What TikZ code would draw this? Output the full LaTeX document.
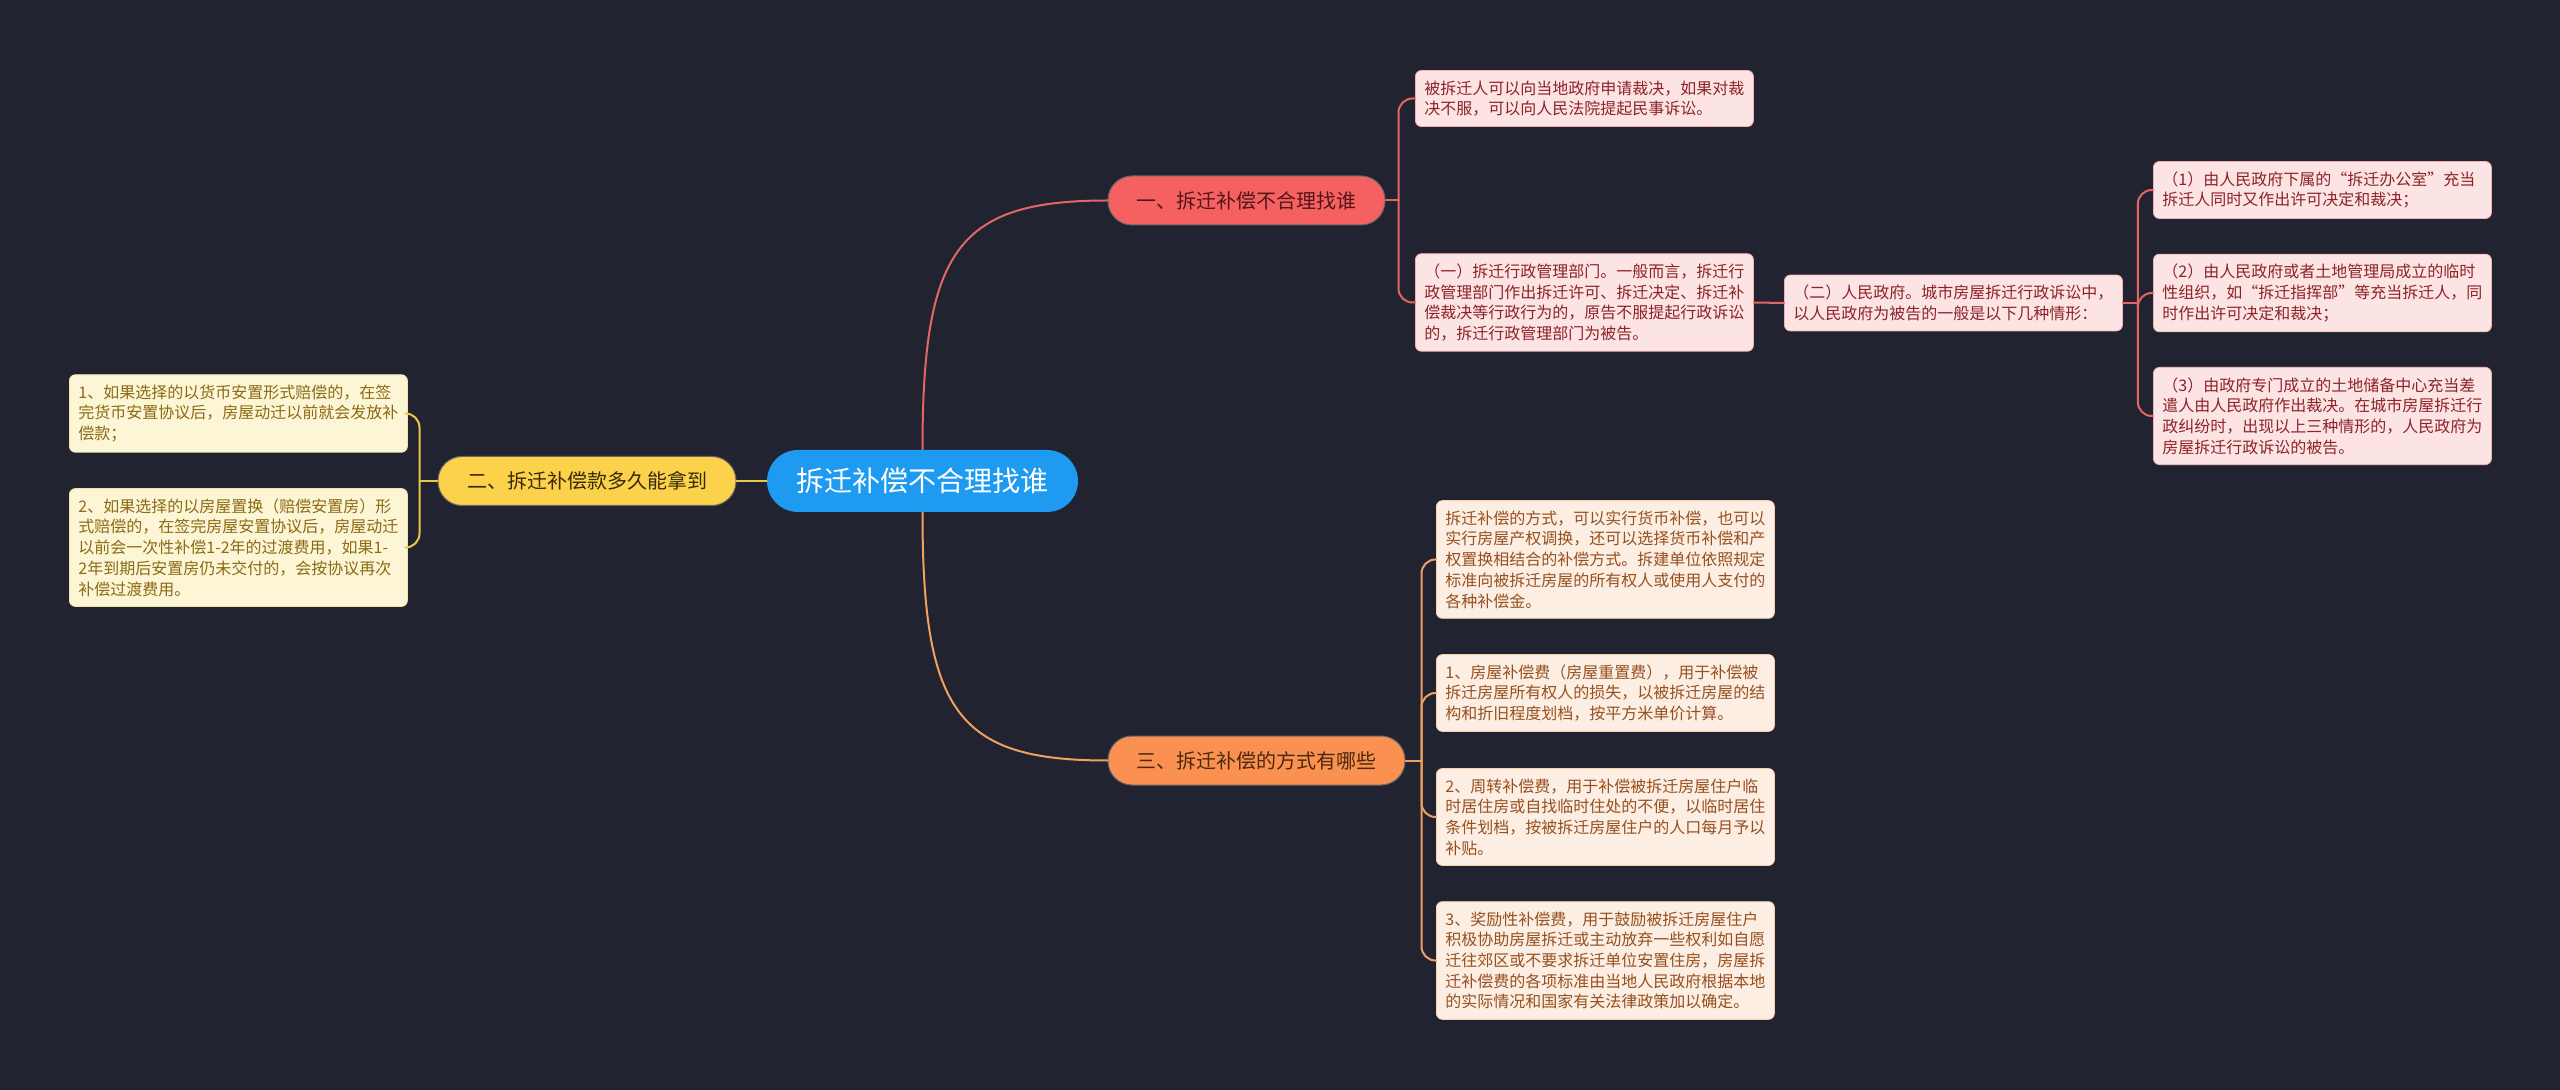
\documentclass[tikz,border=0pt]{standalone}
\usepackage{fontspec}
\setmainfont{Noto Sans CJK SC}
\definecolor{bgcol}{RGB}{33,36,48}
\definecolor{rootcol}{RGB}{30,155,240}
\definecolor{redcol}{RGB}{245,97,97}
\definecolor{redline}{RGB}{226,102,102}
\definecolor{redleafcol}{RGB}{253,228,228}
\definecolor{redtext}{RGB}{140,35,40}
\definecolor{yelcol}{RGB}{252,210,75}
\definecolor{yelline}{RGB}{232,200,74}
\definecolor{yelleafcol}{RGB}{253,246,214}
\definecolor{yeltext}{RGB}{140,105,20}
\definecolor{oracol}{RGB}{251,145,80}
\definecolor{oraline}{RGB}{240,160,96}
\definecolor{oraleafcol}{RGB}{253,238,228}
\definecolor{oratext}{RGB}{150,80,30}
\tikzset{
  leaf/.style={rounded corners=3pt,inner xsep=4.5pt,inner ysep=5pt,text width=160pt,
    align=left,anchor=west,font=\fontsize{8}{10.35}\selectfont},
  redleaf/.style={leaf,fill=redleafcol,draw=redline!50,line width=0.4pt,text=redtext},
  yelleaf/.style={leaf,fill=yelleafcol,draw=yelline!50,line width=0.4pt,text=yeltext},
  oraleaf/.style={leaf,fill=oraleafcol,draw=oraline!50,line width=0.4pt,text=oratext},
  branch/.style={rounded corners=12pt,minimum height=24.5pt,inner sep=0pt,
    draw=black!60,line width=0.5pt,font=\fontsize{10}{12}\selectfont},
  link/.style={line width=1pt}
}
\begin{document}
\begin{tikzpicture}[x=0.5pt,y=-0.5pt,line cap=round,line join=round]
  % 背景
  \fill[bgcol] (0,0) rectangle (2560,1090);
  \useasboundingbox (0,0) rectangle (2560,1090);
  % 中心主题与三个分支
  \node[rounded corners=15.5pt,fill=rootcol,text=white,minimum width=155.5pt,minimum height=31pt,
    font=\fontsize{14}{16}\selectfont] (root) at (922.5,481) {拆迁补偿不合理找谁};
  \node[branch,fill=redcol,text=redtext!60!black,minimum width=138.5pt] (n1) at (1246.5,200.5) {一、拆迁补偿不合理找谁};
  \node[branch,fill=yelcol,text=yeltext!40!black,minimum width=149pt] (n2) at (587,481) {二、拆迁补偿款多久能拿到};
  \node[branch,fill=oracol,text=oratext!50!black,minimum width=148.5pt] (n3) at (1256.5,760.5) {三、拆迁补偿的方式有哪些};
  % 一、找谁
  \node[redleaf] (r1) at (1415,98.5) {被拆迁人可以向当地政府申请裁决，如果对裁\\决不服，可以向人民法院提起民事诉讼。};
  \node[redleaf] (r2) at (1415,302.5) {（一）拆迁行政管理部门。一般而言，拆迁行\\政管理部门作出拆迁许可、拆迁决定、拆迁补\\偿裁决等行政行为的，原告不服提起行政诉讼\\的，拆迁行政管理部门为被告。};
  \node[redleaf] (r3) at (1784,303) {（二）人民政府。城市房屋拆迁行政诉讼中，\\以人民政府为被告的一般是以下几种情形：};
  \node[redleaf] (r31) at (2153,190) {（1）由人民政府下属的“拆迁办公室”充当\\拆迁人同时又作出许可决定和裁决；};
  \node[redleaf] (r32) at (2153,293) {（2）由人民政府或者土地管理局成立的临时\\性组织，如“拆迁指挥部”等充当拆迁人，同\\时作出许可决定和裁决；};
  \node[redleaf] (r33) at (2153,416) {（3）由政府专门成立的土地储备中心充当差\\遣人由人民政府作出裁决。在城市房屋拆迁行\\政纠纷时，出现以上三种情形的，人民政府为\\房屋拆迁行政诉讼的被告。};
  % 二、多久能拿到
  \node[yelleaf] (y1) at (69,413.5) {1、如果选择的以货币安置形式赔偿的，在签\\完货币安置协议后，房屋动迁以前就会发放补\\偿款；};
  \node[yelleaf] (y2) at (69,547.5) {2、如果选择的以房屋置换（赔偿安置房）形\\式赔偿的，在签完房屋安置协议后，房屋动迁\\以前会一次性补偿1-2年的过渡费用，如果1-\\2年到期后安置房仍未交付的，会按协议再次\\补偿过渡费用。};
  % 三、方式
  \node[oraleaf] (o1) at (1436,559.5) {拆迁补偿的方式，可以实行货币补偿，也可以\\实行房屋产权调换，还可以选择货币补偿和产\\权置换相结合的补偿方式。拆建单位依照规定\\标准向被拆迁房屋的所有权人或使用人支付的\\各种补偿金。};
  \node[oraleaf] (o2) at (1436,693) {1、房屋补偿费（房屋重置费），用于补偿被\\拆迁房屋所有权人的损失，以被拆迁房屋的结\\构和折旧程度划档，按平方米单价计算。};
  \node[oraleaf] (o3) at (1436,817) {2、周转补偿费，用于补偿被拆迁房屋住户临\\时居住房或自找临时住处的不便，以临时居住\\条件划档，按被拆迁房屋住户的人口每月予以\\补贴。};
  \node[oraleaf] (o4) at (1436,960.5) {3、奖励性补偿费，用于鼓励被拆迁房屋住户\\积极协助房屋拆迁或主动放弃一些权利如自愿\\迁往郊区或不要求拆迁单位安置住房，房屋拆\\迁补偿费的各项标准由当地人民政府根据本地\\的实际情况和国家有关法律政策加以确定。};
  % 连线
  \draw[link,redline] (root.north) .. controls +(0,-200) and +(-150,0) .. (n1.west);
  \draw[link,oraline] (root.south) .. controls +(0,200) and +(-150,0) .. (n3.west);
  \draw[link,yelline] (root.west) -- (n2.east);
  \path ([xshift=6.5pt]n1.east) coordinate (t1)
        ([xshift=-9pt]n2.west) coordinate (t2)
        ([xshift=8pt]n3.east) coordinate (t3)
        ([xshift=7.5pt]r3.east) coordinate (t4);
  \draw[link,redline] (n1.east) -- (t1);
  \draw[link,yelline] (n2.west) -- (t2);
  \draw[link,oraline] (n3.east) -- (t3);
  \draw[link,redline] (r2.east) -- (r3.west);
  \draw[link,redline] (r3.east) -- (t4);
  \foreach \t in {r1,r2}{
    \draw[link,redline,rounded corners=7pt] (t1) |- (\t.west);
  }
  \foreach \t in {r31,r32,r33}{
    \draw[link,redline,rounded corners=7pt] (t4) |- (\t.west);
  }
  \foreach \t in {y1,y2}{
    \draw[link,yelline,rounded corners=7pt] (t2) |- (\t.east);
  }
  \foreach \t in {o1,o2,o3,o4}{
    \draw[link,oraline,rounded corners=7pt] (t3) |- (\t.west);
  }
\end{tikzpicture}
\end{document}
